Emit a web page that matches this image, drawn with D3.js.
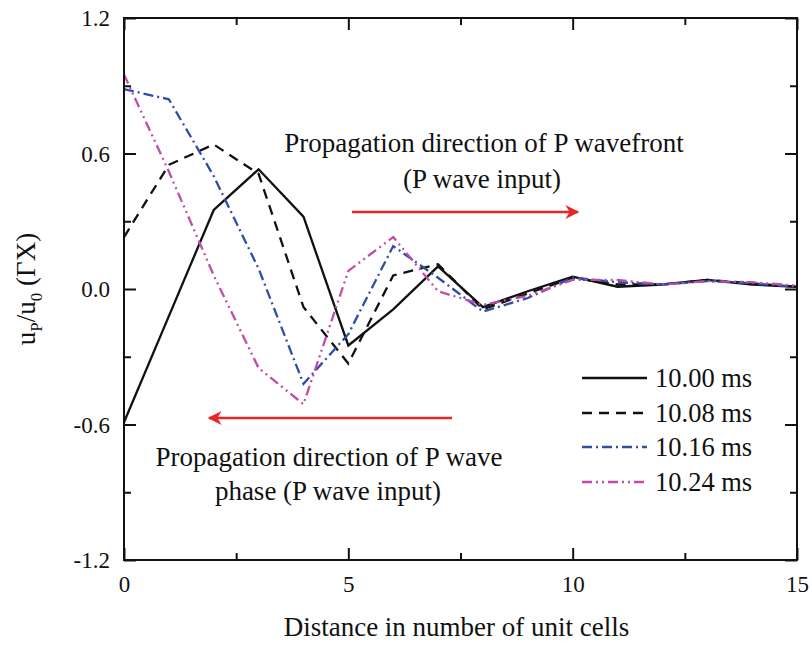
<!DOCTYPE html>
<html>
<head>
<meta charset="utf-8">
<script src="https://cdn.jsdelivr.net/npm/d3@7"></script>
<style>
  html, body { margin: 0; padding: 0; background: #fff; }
  svg, svg text { font-family: "Liberation Serif", "Times New Roman", "DejaVu Serif", serif; }
  svg { display: block; }
</style>
</head>
<body>
<svg id="chart" width="812" height="647"></svg>
<script>
// Distance along the lattice (unit cells)
const cells = [0, 1, 2, 3, 4, 5, 6, 7, 8, 9, 10, 11, 12, 13, 14, 15];

// Normalised displacement u_P/u_0 at four instants
const u1000 = [-0.59, -0.12, 0.35, 0.53, 0.32, -0.25, -0.09, 0.10, -0.08, -0.01, 0.055, 0.01, 0.02, 0.04, 0.02, 0.01];
const u1008 = [0.23, 0.55, 0.64, 0.51, -0.08, -0.33, 0.06, 0.11, -0.09, -0.02, 0.05, 0.02, 0.02, 0.04, 0.025, 0.01];
const u1016 = [0.885, 0.84, 0.50, 0.09, -0.42, -0.20, 0.19, 0.05, -0.10, -0.04, 0.05, 0.03, 0.02, 0.035, 0.025, 0.01];
const u1024 = [0.95, 0.52, 0.06, -0.35, -0.51, 0.08, 0.23, -0.01, -0.07, -0.03, 0.04, 0.04, 0.02, 0.035, 0.03, 0.015];

const seriesNames = ["10.00 ms", "10.08 ms", "10.16 ms", "10.24 ms"];
const seriesValues = [u1000, u1008, u1016, u1024];

const xTicks = [0, 5, 10, 15];
const xMinorTicks = [2.5, 7.5, 12.5];
const yTicks = [-1.2, -0.6, 0.0, 0.6, 1.2];
const yMinorTicks = [-0.9, -0.3, 0.3, 0.9];

const lineStyles = [
  { color: "#111111", dash: null },
  { color: "#111111", dash: "10,7" },
  { color: "#2f4fa6", dash: "10,4,2,4" },
  { color: "#c04ea8", dash: "10,4,2,4,2,4" }
];

const FONT = '"Liberation Serif", "Times New Roman", serif';

const svg = d3.select("#chart");
const margin = { left: 124, right: 15, top: 18, bottom: 87 };
const W = 812, H = 647;
const x0 = margin.left, x1 = W - margin.right;
const y0 = margin.top, y1 = H - margin.bottom;

const x = d3.scaleLinear().domain([0, 15]).range([x0, x1]);
const y = d3.scaleLinear().domain([-1.2, 1.2]).range([y1, y0]);

// Data lines
const line = d3.line().x((d, i) => x(cells[i])).y(d => y(d));
const plot = svg.append("g");
seriesValues.forEach((vals, k) => {
  plot.append("path")
    .datum(vals)
    .attr("d", line)
    .attr("fill", "none")
    .attr("stroke", lineStyles[k].color)
    .attr("stroke-width", 2.3)
    .attr("stroke-dasharray", lineStyles[k].dash)
    .attr("stroke-linejoin", "miter");
});

// Frame with inward ticks on all four sides
function axisGroup(axis, tx, ty) {
  const g = svg.append("g").attr("transform", `translate(${tx},${ty})`).call(axis);
  g.attr("font-family", FONT);
  g.select(".domain").remove();
  g.selectAll("line").attr("stroke", "#111").attr("stroke-width", 2);
  return g;
}
const yFmt = d => d3.format(".1f")(d).replace("\u2212", "-");

// bottom
const xb = axisGroup(d3.axisBottom(x).tickValues(xTicks).tickSizeInner(-12).tickSizeOuter(0).tickFormat(d3.format("d")), 0, y1);
xb.selectAll("text").attr("font-size", 23).attr("fill", "#111").attr("y", 32).attr("dy", 0);
axisGroup(d3.axisBottom(x).tickValues(xMinorTicks).tickSizeInner(-7).tickSizeOuter(0).tickFormat(""), 0, y1);
// top
axisGroup(d3.axisTop(x).tickValues(xTicks).tickSizeInner(-12).tickSizeOuter(0).tickFormat(""), 0, y0);
axisGroup(d3.axisTop(x).tickValues(xMinorTicks).tickSizeInner(-7).tickSizeOuter(0).tickFormat(""), 0, y0);
// left
const yl = axisGroup(d3.axisLeft(y).tickValues(yTicks).tickSizeInner(-12).tickSizeOuter(0).tickFormat(yFmt), x0, 0);
yl.selectAll("text").attr("font-size", 23).attr("fill", "#111").attr("x", -14).attr("dy", "0.34em");
axisGroup(d3.axisLeft(y).tickValues(yMinorTicks).tickSizeInner(-7).tickSizeOuter(0).tickFormat(""), x0, 0);
// right
axisGroup(d3.axisRight(y).tickValues(yTicks).tickSizeInner(-12).tickSizeOuter(0).tickFormat(""), x1, 0);
axisGroup(d3.axisRight(y).tickValues(yMinorTicks).tickSizeInner(-7).tickSizeOuter(0).tickFormat(""), x1, 0);

svg.append("rect")
  .attr("x", x0).attr("y", y0)
  .attr("width", x1 - x0).attr("height", y1 - y0)
  .attr("fill", "none").attr("stroke", "#111").attr("stroke-width", 2);

// Axis titles
svg.append("text")
  .attr("x", (x0 + x1) / 2 - 4).attr("y", 636)
  .attr("text-anchor", "middle")
  .attr("font-family", FONT)
  .attr("font-size", 27).attr("fill", "#111")
  .text("Distance in number of unit cells");

const yt = svg.append("text")
  .attr("transform", `translate(35,${(y0 + y1) / 2}) rotate(-90)`)
  .attr("text-anchor", "middle")
  .attr("font-family", FONT)
  .attr("font-size", 27).attr("fill", "#111");
yt.append("tspan").text("u");
yt.append("tspan").attr("font-size", 17).attr("dy", 7).text("P");
yt.append("tspan").attr("dy", -7).text("/u");
yt.append("tspan").attr("font-size", 17).attr("dy", 7).text("0");
yt.append("tspan").attr("dy", -7).text(" (ΓX)");

// Annotations with red arrows
svg.append("defs").append("marker")
  .attr("id", "redHead")
  .attr("viewBox", "0 0 10 10")
  .attr("refX", 9).attr("refY", 5)
  .attr("markerWidth", 24).attr("markerHeight", 14)
  .attr("markerUnits", "userSpaceOnUse")
  .attr("orient", "auto")
  .append("path")
  .attr("d", "M0,0 L10,5 L0,10 L3,5 Z")
  .attr("fill", "#e8262a");

function arrow(xa, xb, yv) {
  svg.append("line")
    .attr("x1", xa).attr("y1", yv).attr("x2", xb).attr("y2", yv)
    .attr("stroke", "#e8262a").attr("stroke-width", 2.5)
    .attr("marker-end", "url(#redHead)");
}
arrow(352, 578, 212);
arrow(452, 209, 418);

const note = (tx, ty, str) => svg.append("text")
  .attr("x", tx).attr("y", ty).attr("text-anchor", "middle")
  .attr("font-family", FONT)
  .attr("font-size", 27).attr("fill", "#111").text(str);
note(484, 152, "Propagation direction of P wavefront");
note(482, 188, "(P wave input)");
note(329, 466, "Propagation direction of P wave");
note(328, 500, "phase (P wave input)");

// Legend
const legendY = [378, 413, 447, 482];
seriesNames.forEach((name, k) => {
  const ly = legendY[k];
  svg.append("line")
    .attr("x1", 582).attr("x2", 647).attr("y1", ly).attr("y2", ly)
    .attr("stroke", lineStyles[k].color)
    .attr("stroke-width", 2.3)
    .attr("stroke-dasharray", lineStyles[k].dash);
  svg.append("text")
    .attr("x", 655).attr("y", ly + 9)
    .attr("font-family", FONT)
    .attr("font-size", 26.5).attr("fill", "#111")
    .text(name);
});
</script>
</body>
</html>
